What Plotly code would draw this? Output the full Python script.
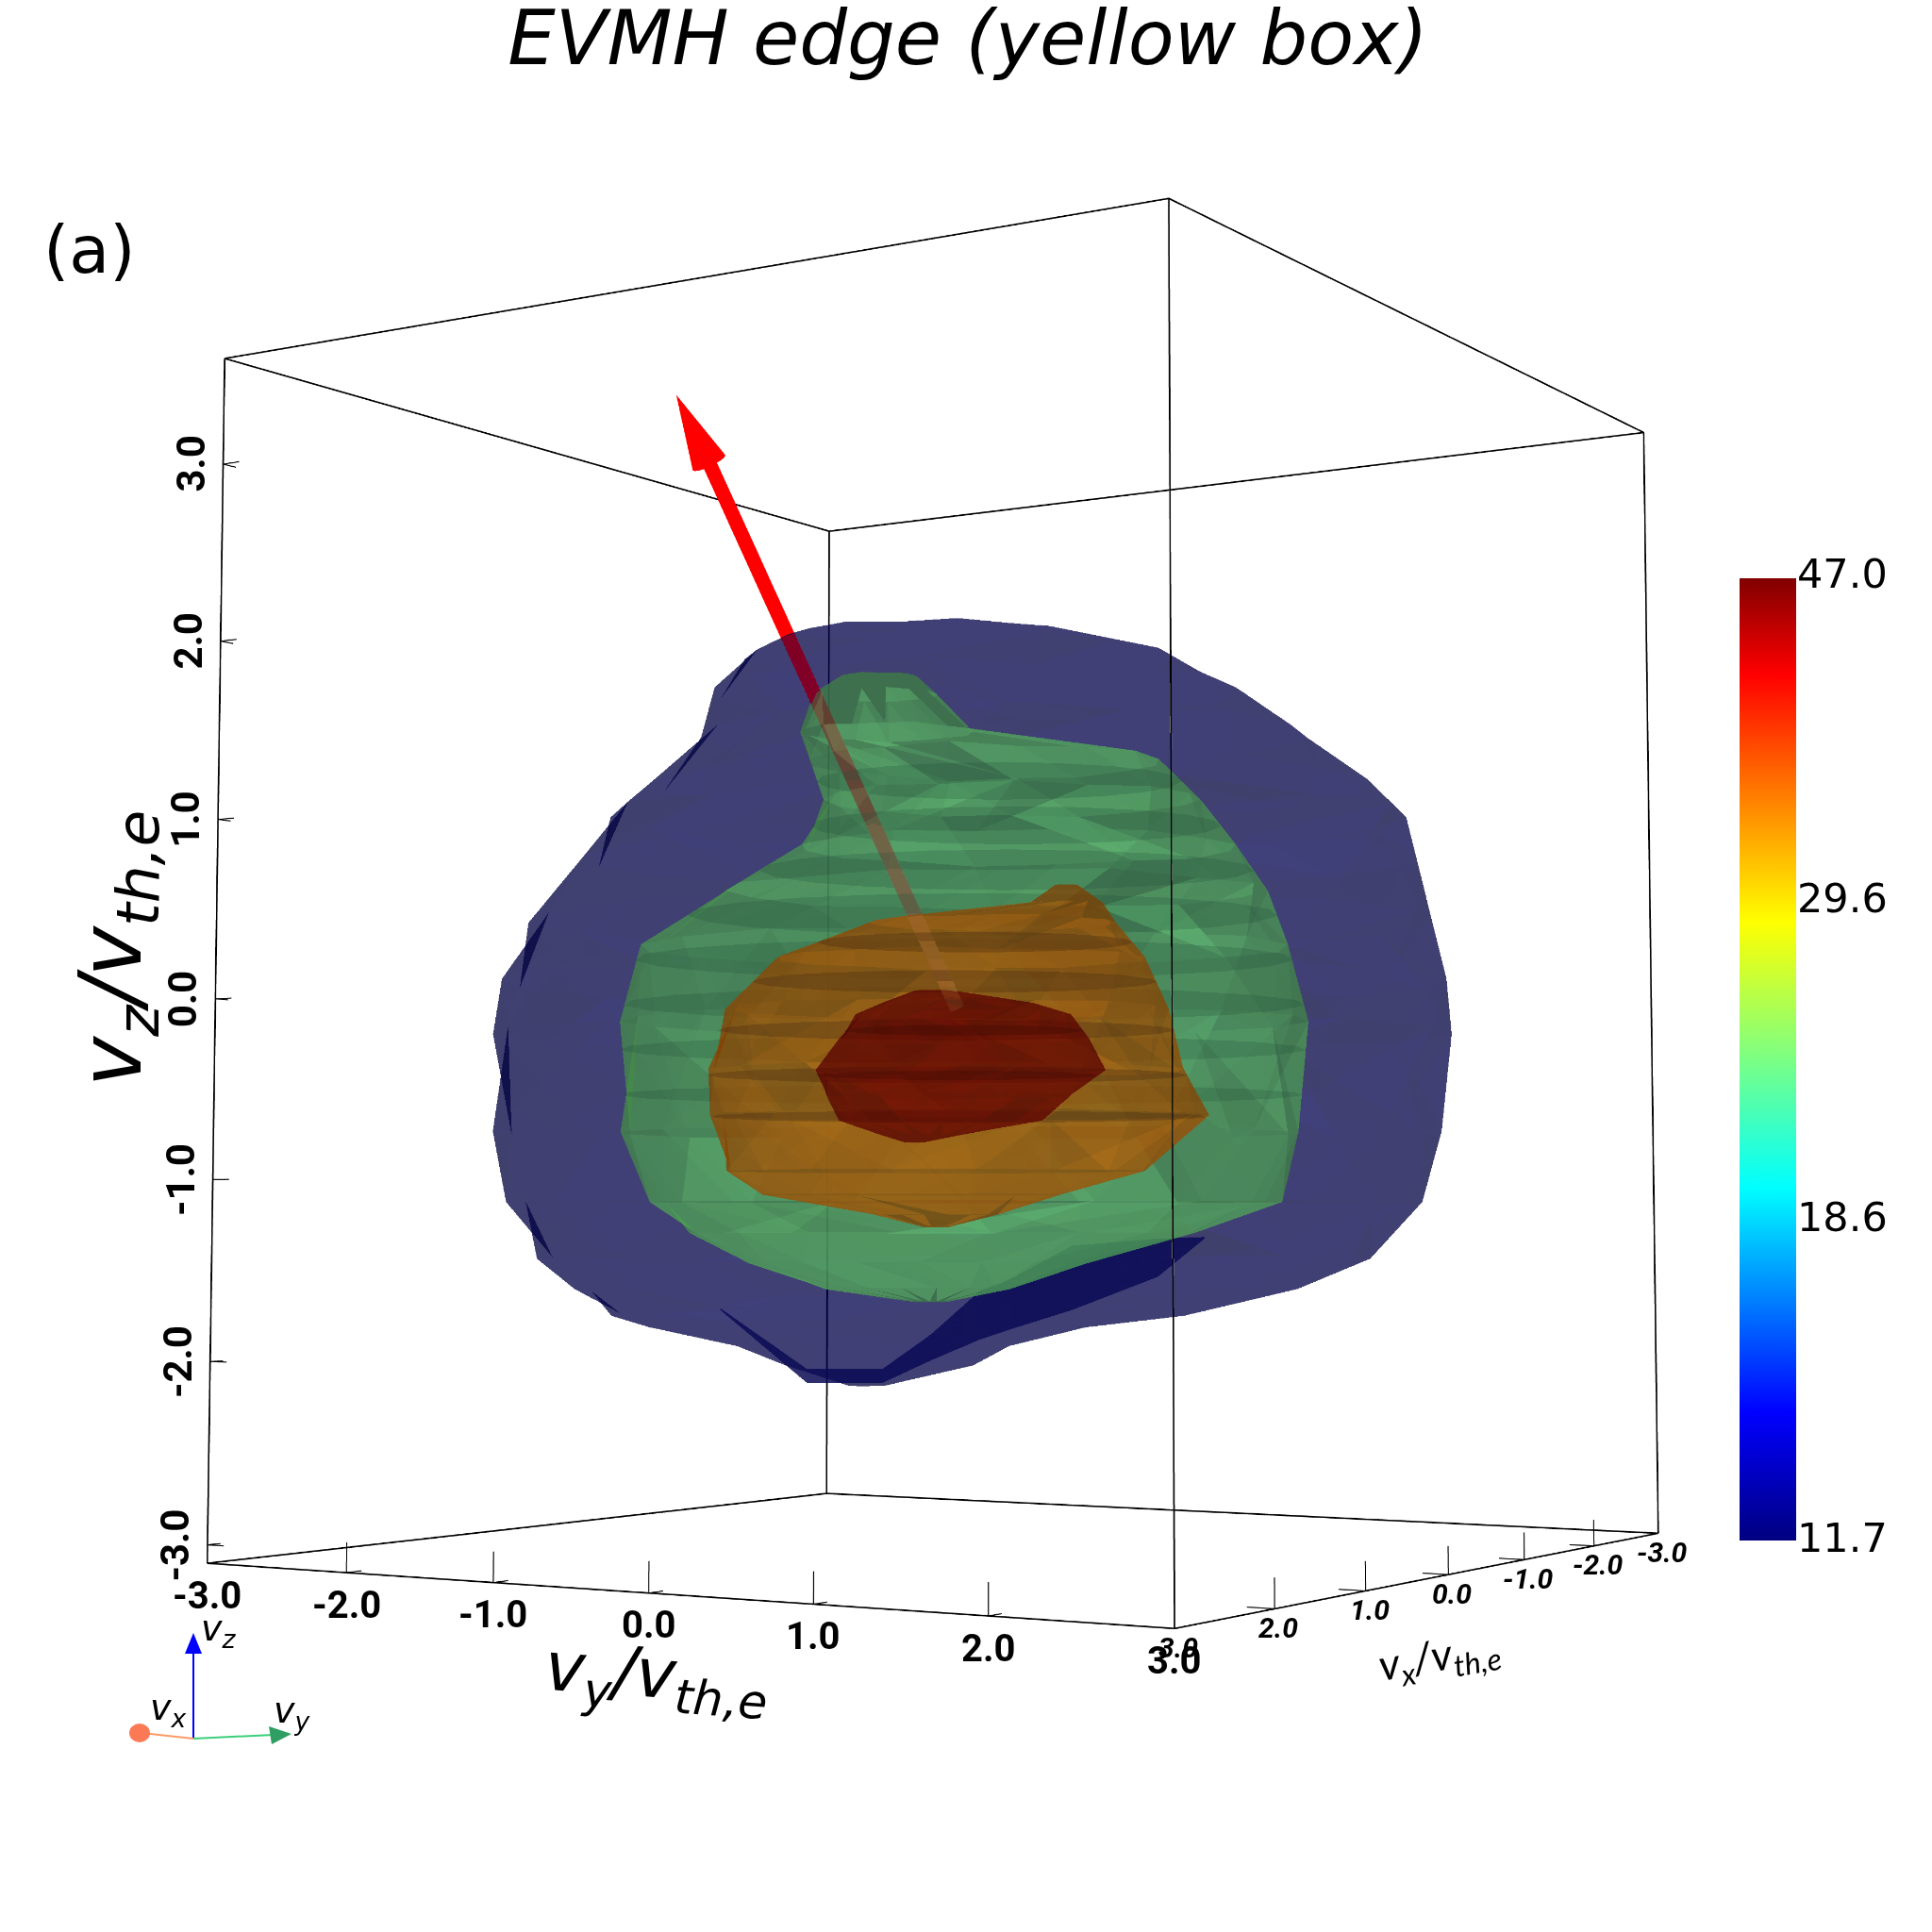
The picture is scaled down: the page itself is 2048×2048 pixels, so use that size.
import numpy as np
import plotly.graph_objects as go

# iso levels and colorbar
iso_levels = [11.9, 23.5, 34.5, 46.0]
cbar_ticks = [11.7, 18.6, 29.6, 47.0]
axis_ticks = [-3, -2, -1, 0, 1, 2, 3]
x_box = [-3, 3]
y_box = [-3, 3]
z_box = [-3.1, 3.6]

# surfaces as stacked rings: vz level, left and right extent across the view (in v/vth)
blue_z = [2.13, 2.08, 1.96, 1.77, 1.52, 1.24, 1.07, 0.83, 0.48, 0.14, -0.14, -0.69, -1.07, -1.38, -1.55, -1.69, -1.76, -1.86, -1.97, -2.08]
blue_l = [-0.64, -0.99, -1.23, -1.41, -1.47, -1.74, -1.97, -2.12, -2.42, -2.56, -2.61, -2.60, -2.53, -2.36, -2.15, -1.95, -1.74, -1.26, -0.99, -0.65]
blue_r = [-0.37, 0.59, 1.14, 1.51, 1.89, 2.23, 2.44, 2.49, 2.58, 2.65, 2.68, 2.61, 2.51, 2.23, 1.82, 1.21, 0.66, 0.25, 0.04, -0.44]

green_z = [1.86, 1.76, 1.55, 1.38, 1.17, 0.90, 0.66, 0.34, -0.07, -0.69, -1.07, -1.24, -1.41, -1.55, -1.62]
green_l = [-0.70, -0.85, -0.92, -0.88, -0.79, -0.92, -1.33, -1.81, -1.91, -1.91, -1.74, -1.53, -1.19, -0.78, -0.30]
green_r = [-0.27, -0.16, 0.04, 1.08, 1.30, 1.50, 1.67, 1.79, 1.89, 1.84, 1.74, 1.27, 0.66, 0.25, -0.10]

orange_z = [0.69, 0.59, 0.48, 0.28, 0.00, -0.34, -0.59, -0.90, -1.03, -1.14, -1.21]
orange_l = [0.49, 0.35, -0.54, -1.05, -1.33, -1.43, -1.41, -1.33, -1.12, -0.51, -0.23]
orange_r = [0.62, 0.76, 0.83, 1.00, 1.12, 1.21, 1.34, 1.00, 0.52, 0.18, -0.10]

red_z = [0.10, 0.03, -0.03, -0.17, -0.34, -0.48, -0.62, -0.70, -0.74]
red_l = [-0.29, -0.47, -0.61, -0.71, -0.83, -0.78, -0.70, -0.47, -0.34]
red_r = [-0.06, 0.38, 0.58, 0.69, 0.77, 0.59, 0.42, -0.03, -0.23]

# dark horizontal bands inside the surfaces
green_bands = [1.27, 1.02, 0.77, 0.52, 0.27, 0.02, -0.23, -0.48]
orange_bands = [0.37, 0.15, -0.12, -0.37, -0.60]
red_bands = [-0.12, -0.37]

# dark fold of the blue surface at the bottom
fold_t = [-1.41, -0.91, -0.48, -0.20, 0.08, 0.26, 0.61, 1.10, 1.37]
fold_top = [-1.73, -2.08, -2.08, -1.88, -1.63, -1.56, -1.37, -1.33, -1.32]
fold_low = [-1.74, -2.16, -2.16, -2.03, -1.91, -1.85, -1.74, -1.55, -1.33]

# surface roughness, read off the facets: depth of the ring per segment
rough = [1.00, 0.88, 1.07, 0.95, 0.84, 1.09, 0.93, 1.03, 0.86, 1.06, 0.97, 0.85, 1.08, 0.90, 1.01, 0.83]

# red arrow
arrow_tail = [0.03, -0.04, 0.0]
arrow_neck = [0.795, -1.27, 3.21]
arrow_tip = [0.896, -1.433, 3.61]

# view
eye = dict(x=2.96, y=1.85, z=-0.245)
across = np.array([-0.530, 0.848])
toward = np.array([0.848, 0.530])
SCALE = 1.045

FIG = 3192       # plotly fixes the fov at 45 deg, so the scene is bigger than the window
SHIFT = 572

jet = [[0, "#000080"], [0.133, "#0000ff"], [0.367, "#00ffff"],
       [0.643, "#ffff00"], [0.9, "#ff0000"], [1, "#800000"]]
cmin, cmax = np.log10(cbar_ticks[0]), np.log10(cbar_ticks[-1])


def fx(p):
    return (p + SHIFT) / FIG


def fy(p):
    return 1 - (p + SHIFT) / FIG


def ring_mesh(zs, ls, rs, segs=16, depth=0.85):
    xs, ys, zz = [], [], []
    for k, (z, l, r) in enumerate(zip(zs, ls, rs)):
        mid, half = SCALE * (l + r) / 2, SCALE * (r - l) / 2
        th = np.arange(segs) * 2 * np.pi / segs + (k % 2) * np.pi / segs
        d = depth * half * np.sin(th) * np.roll(rough, 5 * k)
        pts = np.outer(mid + half * np.cos(th), across) + np.outer(d, toward)
        xs += list(pts[:, 0])
        ys += list(pts[:, 1])
        zz += [SCALE * z] * segs
    ii, jj, kk = [], [], []
    for k in range(len(zs) - 1):
        a, b = k * segs, (k + 1) * segs
        for s in range(segs):
            s2 = (s + 1) % segs
            ii += [a + s, a + s]
            jj += [b + s, a + s2]
            kk += [b + s2, b + s2]
    # caps
    for n in (0, len(zs) - 1):
        c = len(xs)
        p = SCALE * (ls[n] + rs[n]) / 2 * across
        xs.append(p[0]); ys.append(p[1]); zz.append(SCALE * zs[n])
        for s in range(segs):
            ii.append(c); jj.append(n * segs + s); kk.append(n * segs + (s + 1) % segs)
    return xs, ys, zz, ii, jj, kk


def band_mesh(bands, zs, ls, rs, segs=20, depth=0.85):
    xs, ys, zz, ii, jj, kk = [], [], [], [], [], []
    # np.interp wants rising levels
    zr, lr, rr = zs[::-1], ls[::-1], rs[::-1]
    th = np.arange(segs) * 2 * np.pi / segs
    for b in bands:
        l, r = np.interp(b, zr, lr), np.interp(b, zr, rr)
        mid, half = SCALE * (l + r) / 2, SCALE * (r - l) / 2
        pts = np.outer(mid + half * np.cos(th), across) + np.outer(depth * half * np.sin(th), toward)
        c = len(xs)
        xs += list(pts[:, 0])
        ys += list(pts[:, 1])
        zz += [SCALE * b] * segs
        for s in range(1, segs - 1):
            ii.append(c); jj.append(c + s); kk.append(c + s + 1)
    return xs, ys, zz, ii, jj, kk


def tube(a, b, r, tip_r=None, segs=16):
    a, b = np.array(a), np.array(b)
    d = (b - a) / np.linalg.norm(b - a)
    e1 = np.cross(d, [0, 0, 1.0]); e1 /= np.linalg.norm(e1)
    e2 = np.cross(d, e1)
    th = np.arange(segs) * 2 * np.pi / segs
    circ = np.outer(np.cos(th), e1) + np.outer(np.sin(th), e2)
    p = np.vstack([a + r * circ, b + (r if tip_r is None else tip_r) * circ])
    ii, jj, kk = [], [], []
    for s in range(segs):
        s2 = (s + 1) % segs
        ii += [s, s]
        jj += [segs + s, s2]
        kk += [segs + s2, segs + s2]
    return p[:, 0], p[:, 1], p[:, 2], ii, jj, kk


def box_edges():
    xs, ys, zs = [], [], []
    x0, x1 = x_box
    y0, y1 = y_box
    z0, z1 = z_box
    for z in (z0, z1):
        xs += [x0, x1, x1, x0, x0, None]
        ys += [y0, y0, y1, y1, y0, None]
        zs += [z, z, z, z, z, None]
    for x, y in ((x0, y0), (x1, y0), (x1, y1), (x0, y1)):
        xs += [x, x, None]
        ys += [y, y, None]
        zs += [z0, z1, None]
    return xs, ys, zs


def tick_marks():
    xs, ys, zs = [], [], []
    z0 = z_box[0]
    for t in axis_ticks:
        # vy ticks on the edge vx=3
        xs += [3, 3, None, 3, 2.88, None]; ys += [t, t, None, t, t, None]; zs += [z0, z0 + 0.16, None, z0, z0, None]
        # vx ticks on the edge vy=3
        xs += [t, t, None, t, t, None]; ys += [3, 3, None, 3, 2.85, None]; zs += [z0, z0 + 0.15, None, z0, z0, None]
        # vz ticks on the edge vx=3, vy=-3
        xs += [3, 3, None, 3, 2.9, None]; ys += [-3, -2.88, None, -3, -3, None]; zs += [t, t, None, t, t, None]
    return xs, ys, zs


fig = go.Figure()

# arrow first (opaque), the see-through surfaces blend over it
flat = dict(ambient=1, diffuse=0, specular=0)
for a, b, r, tip in ((arrow_tail, arrow_neck, 0.042, None), (arrow_neck, arrow_tip, 0.105, 0.001)):
    x, y, z, i, j, k = tube(a, b, r, tip_r=tip)
    fig.add_trace(go.Mesh3d(x=x, y=y, z=z, i=i, j=j, k=k, color="#ff0000", flatshading=True,
                            lighting=flat, hoverinfo="skip"))

x, y, z = box_edges()
fig.add_trace(go.Scatter3d(x=x, y=y, z=z, mode="lines", line=dict(color="black", width=3), hoverinfo="skip"))
x, y, z = tick_marks()
fig.add_trace(go.Scatter3d(x=x, y=y, z=z, mode="lines", line=dict(color="black", width=2), hoverinfo="skip"))

surfaces = [(blue_z, blue_l, blue_r, iso_levels[0], 0.5, [], "#000033", 0.0, 0.44, 0.14),
            (green_z, green_l, green_r, iso_levels[1], 0.5, green_bands, "#1e4a38", 0.22, 0.5, 0.32),
            (orange_z, orange_l, orange_r, iso_levels[2], 0.5, orange_bands, "#4a2c10", 0.36, 0.5, 0.28),
            (red_z, red_l, red_r, iso_levels[3], 0.5, red_bands, "#3a0a04", 0.3, 0.58, 0.16)]
for n, (zs, ls, rs, lev, op, bands, band_col, band_op, amb, dif) in enumerate(surfaces):
    x, y, z, i, j, k = ring_mesh(zs, ls, rs)
    mesh = dict(x=x, y=y, z=z, i=i, j=j, k=k, intensity=[np.log10(lev)] * len(x),
                colorscale=jet, cmin=cmin, cmax=cmax, opacity=op, flatshading=True,
                lighting=dict(ambient=amb, diffuse=dif, specular=0, fresnel=0),
                lightposition=dict(x=1500, y=800, z=1500), hoverinfo="skip", showscale=False)
    if n == 0:
        mesh.update(showscale=True, colorbar=dict(
            thickness=60, thicknessmode="pixels", len=1020, lenmode="pixels",
            x=fx(1844), xanchor="left", y=fy(1123), yanchor="middle",
            tickvals=list(np.log10(cbar_ticks)), showticklabels=False,
            ticks="", outlinewidth=0, ypad=0, xpad=0))
    fig.add_trace(go.Mesh3d(**mesh))
    if bands:
        x, y, z, i, j, k = band_mesh(bands, zs, ls, rs)
        fig.add_trace(go.Mesh3d(x=x, y=y, z=z, i=i, j=j, k=k, color=band_col, opacity=band_op,
                                flatshading=True, lighting=flat, hoverinfo="skip"))
    if n == 0:
        # the fold sits in a plane through the middle of the box
        pts = np.outer(np.array(fold_t + fold_t), across)
        zf = np.array(fold_top + fold_low)
        m = len(fold_t)
        ii, jj, kk = [], [], []
        for s in range(m - 1):
            ii += [s, s]; jj += [s + 1, m + s]; kk += [m + s + 1, m + s + 1]
        fig.add_trace(go.Mesh3d(x=pts[:, 0], y=pts[:, 1], z=zf, i=ii, j=jj, k=kk, color="#0a0a55",
                                opacity=0.85, flatshading=True, lighting=flat, hoverinfo="skip"))

hidden = dict(showbackground=False, showgrid=False, zeroline=False, showspikes=False,
              showline=False, ticks="", showticklabels=False, title=dict(text=""))

# tick labels sit on the three lower edges of the box
scene_notes = []
for t in axis_ticks:
    scene_notes.append(dict(x=3, y=-3, z=t, text=f"<b>{t:.1f}</b>", showarrow=False, textangle=-90, xshift=-34,
                            font=dict(family="Roboto", size=42, color="black")))
    scene_notes.append(dict(x=3, y=t, z=z_box[0], text=f"<b>{t:.1f}</b>", showarrow=False, yshift=-34,
                            font=dict(family="Roboto", size=40, color="black")))
    scene_notes.append(dict(x=t, y=3, z=z_box[0], text=f"<b><i>{t:.1f}</i></b>", showarrow=False, yshift=-20, xshift=4,
                            font=dict(family="Roboto", size=30, color="black")))


def note(text, px, py, size, angle=0, family="DejaVu Sans", anchor="center"):
    return dict(text=text, x=fx(px), y=fy(py), xref="paper", yref="paper", showarrow=False,
                xanchor=anchor, yanchor="middle", textangle=angle,
                font=dict(family=family, size=size, color="black"))


# colorbar labels are right aligned in the reference
cbar_notes = [note(f"{v:.1f}", 2003, py, 43, anchor="right")
              for v, py in zip(cbar_ticks, [1630, 1290, 952, 608])]

fig.update_layout(
    width=FIG, height=FIG, margin=dict(l=0, r=0, t=0, b=0), paper_bgcolor="white",
    showlegend=False,
    title=dict(text="<i>EVMH edge (yellow box)</i>", x=fx(1026), y=fy(40), xanchor="center", yanchor="middle",
               font=dict(family="DejaVu Sans", size=80, color="black")),
    scene=dict(domain=dict(x=[0, 1], y=[0, 1]),
               aspectmode="manual", aspectratio=dict(x=1.007, y=1.007, z=6.7 / 6),
               camera=dict(eye=eye, center=dict(x=0, y=0, z=0), up=dict(x=0, y=0, z=1)),
               # a little wider than the box, lines on the exact bound get clipped
               xaxis=dict(hidden, range=[x_box[0] - 0.02, x_box[1] + 0.02]),
               yaxis=dict(hidden, range=[y_box[0] - 0.02, y_box[1] + 0.02]),
               zaxis=dict(hidden, range=[z_box[0] - 0.02, z_box[1] + 0.02]),
               annotations=scene_notes),
    annotations=[
        note("(a)", 95, 265, 70),
        note("<i>v<sub>z</sub>/v<sub>th,e</sub></i>", 124, 1006, 90, angle=-90),
        note("<i>v<sub>y</sub>/v<sub>th,e</sub></i>", 696, 1779, 72, angle=4),
        note("<i>v<sub>x</sub>/v<sub>th,e</sub></i>", 1525, 1757, 46, angle=-10, family="Lato"),
        note("<i>v<sub>z</sub></i>", 232, 1728, 38),
        note("<i>v<sub>y</sub></i>", 310, 1815, 38),
        note("<i>v<sub>x</sub></i>", 178, 1812, 38),
    ] + cbar_notes,
    shapes=[
        dict(type="line", xref="paper", yref="paper", x0=fx(205), y0=fy(1843), x1=fx(205), y1=fy(1750), line=dict(color="#0000ff", width=2)),
        dict(type="line", xref="paper", yref="paper", x0=fx(205), y0=fy(1843), x1=fx(290), y1=fy(1839), line=dict(color="#3ccf7a", width=2)),
        dict(type="line", xref="paper", yref="paper", x0=fx(205), y0=fy(1843), x1=fx(150), y1=fy(1837), line=dict(color="#ff9a66", width=2)),
        dict(type="path", xref="paper", yref="paper", path=f"M{fx(205)},{fy(1731)} L{fx(196)},{fy(1753)} L{fx(214)},{fy(1753)} Z", fillcolor="#0000ff", line=dict(width=0)),
        dict(type="path", xref="paper", yref="paper", path=f"M{fx(309)},{fy(1838)} L{fx(285)},{fy(1830)} L{fx(288)},{fy(1849)} Z", fillcolor="#2e9e62", line=dict(width=0)),
        dict(type="circle", xref="paper", yref="paper", x0=fx(137), x1=fx(159), y0=fy(1827), y1=fy(1847), fillcolor="#fb7a55", line=dict(width=0)),
    ],
)

post = ("var gd=document.getElementById('{plot_id}');gd.style.position='absolute';"
        f"gd.style.left='-{SHIFT}px';gd.style.top='-{SHIFT}px';"
        "document.documentElement.style.overflow='hidden';document.body.style.overflow='hidden';")
fig.write_html("out.html", post_script=post)
